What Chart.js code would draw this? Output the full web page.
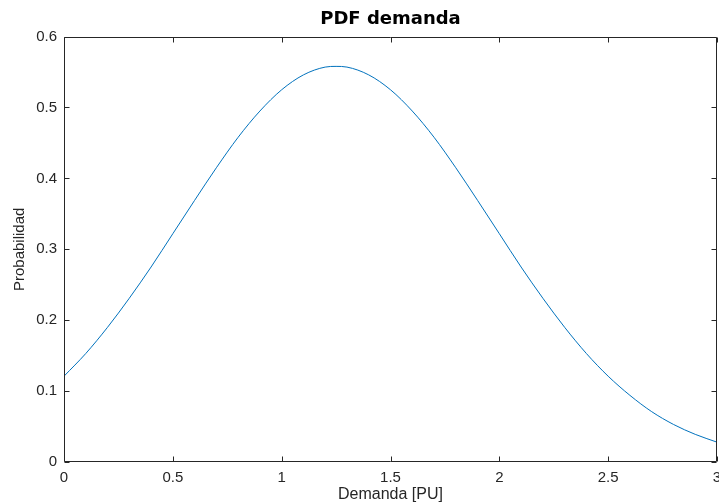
<!DOCTYPE html>
<html>
<head>
<meta charset="utf-8">
<script src="https://cdn.jsdelivr.net/npm/chart.js@4.4.1/dist/chart.umd.min.js"></script>
<style>
  html, body { margin: 0; padding: 0; background: #fff; }
  #wrap { width: 719px; height: 503px; }
</style>
</head>
<body>
<div id="wrap"><canvas id="chart-pdf"></canvas></div>
<script>
// curve
var demanda = [0, 0.1, 0.2, 0.3, 0.4, 0.5, 0.6, 0.7, 0.8, 0.9, 1.0, 1.1, 1.2, 1.25, 1.3, 1.4, 1.5,
  1.6, 1.7, 1.8, 1.9, 2.0, 2.1, 2.2, 2.3, 2.4, 2.5, 2.6, 2.7, 2.8, 2.9, 3.0];
var probabilidad = [0.121, 0.153, 0.190, 0.231, 0.275, 0.322, 0.369, 0.415, 0.458, 0.495, 0.525,
  0.546, 0.557, 0.558, 0.557, 0.546, 0.525, 0.495, 0.458, 0.415, 0.369, 0.322, 0.275, 0.231,
  0.190, 0.153, 0.121, 0.094, 0.071, 0.053, 0.039, 0.028];
var xTicks = [0, 0.5, 1, 1.5, 2, 2.5, 3];
var yTicks = [0, 0.1, 0.2, 0.3, 0.4, 0.5, 0.6];

var axisColor = "#262626";

var pts = [];
for (let i = 0; i < demanda.length; i++) {
  pts.push({ x: demanda[i], y: probabilidad[i] });
}

// matlab style box with inward ticks on all four sides
var boxPlugin = {
  id: "box",
  afterDraw: function (chart) {
    var c = chart.ctx;
    var a = chart.chartArea;
    var sx = chart.scales.x;
    var sy = chart.scales.y;
    var L = Math.round(a.left) + 0.5;
    var R = Math.round(a.right) - 0.5;
    var T = Math.round(a.top) + 0.5;
    var B = Math.round(a.bottom) - 0.5;
    c.save();
    c.strokeStyle = axisColor;
    c.lineWidth = 1;
    c.beginPath();
    c.rect(L, T, R - L, B - T);
    var tl = 5;
    xTicks.forEach(function (v) {
      var px = Math.round(sx.getPixelForValue(v)) + 0.5;
      c.moveTo(px, B); c.lineTo(px, B - tl);
      c.moveTo(px, T); c.lineTo(px, T + tl);
    });
    yTicks.forEach(function (v) {
      var py = Math.round(sy.getPixelForValue(v)) + 0.5;
      c.moveTo(L, py); c.lineTo(L + tl, py);
      c.moveTo(R, py); c.lineTo(R - tl, py);
    });
    c.stroke();
    c.restore();
  },
};

function plainLabel(value) {
  return String(value);
}

var ctx = document.getElementById("chart-pdf").getContext("2d");
new Chart(ctx, {
  type: "scatter",
  data: {
    datasets: [
      {
        label: "PDF",
        data: pts,
        showLine: true,
        borderColor: "#0072BD",
        borderWidth: 1,
        pointRadius: 0,
        tension: 0.4,
        cubicInterpolationMode: "monotone",
        fill: false,
      },
    ],
  },
  options: {
    responsive: true,
    maintainAspectRatio: false,
    animation: false,
    layout: { padding: { right: 2 } },
    plugins: {
      legend: { display: false },
      tooltip: { enabled: false },
      title: {
        display: true,
        text: "PDF demanda",
        fullSize: false,
        color: "#000",
        font: { family: "DejaVu Sans", weight: "bold", size: 18, lineHeight: 1.2 },
        padding: { top: 9, bottom: 6 },
      },
    },
    scales: {
      x: {
        type: "linear",
        min: 0,
        max: 3,
        afterBuildTicks: function (s) {
          s.ticks = xTicks.map(function (v) { return { value: v }; });
        },
        afterFit: function (s) {
          s.height = 41;
          s.paddingLeft = 0;
          s.paddingRight = 0;
        },
        grid: { display: false, drawTicks: false },
        border: { display: false },
        ticks: {
          padding: 7,
          maxRotation: 0,
          autoSkip: false,
          color: axisColor,
          callback: plainLabel,
          font: { family: "Liberation Sans", size: 15 },
        },
        title: {
          display: true,
          text: "Demanda [PU]",
          color: axisColor,
          font: { family: "Liberation Sans", size: 16, lineHeight: 1 },
          padding: { top: 0, bottom: 0 },
        },
      },
      y: {
        type: "linear",
        min: 0,
        max: 0.6,
        afterBuildTicks: function (s) {
          s.ticks = yTicks.map(function (v) { return { value: v }; });
        },
        afterFit: function (s) {
          s.width = 64;
          s.paddingTop = 0;
          s.paddingBottom = 0;
        },
        grid: { display: false, drawTicks: false },
        border: { display: false },
        ticks: {
          padding: 7,
          autoSkip: false,
          color: axisColor,
          callback: plainLabel,
          font: { family: "Liberation Sans", size: 15 },
        },
        title: {
          display: true,
          text: "Probabilidad",
          color: axisColor,
          font: { family: "Liberation Sans", size: 15, lineHeight: 1.2 },
          padding: { top: 11, bottom: 0 },
        },
      },
    },
  },
  plugins: [boxPlugin],
});
</script>
</body>
</html>
